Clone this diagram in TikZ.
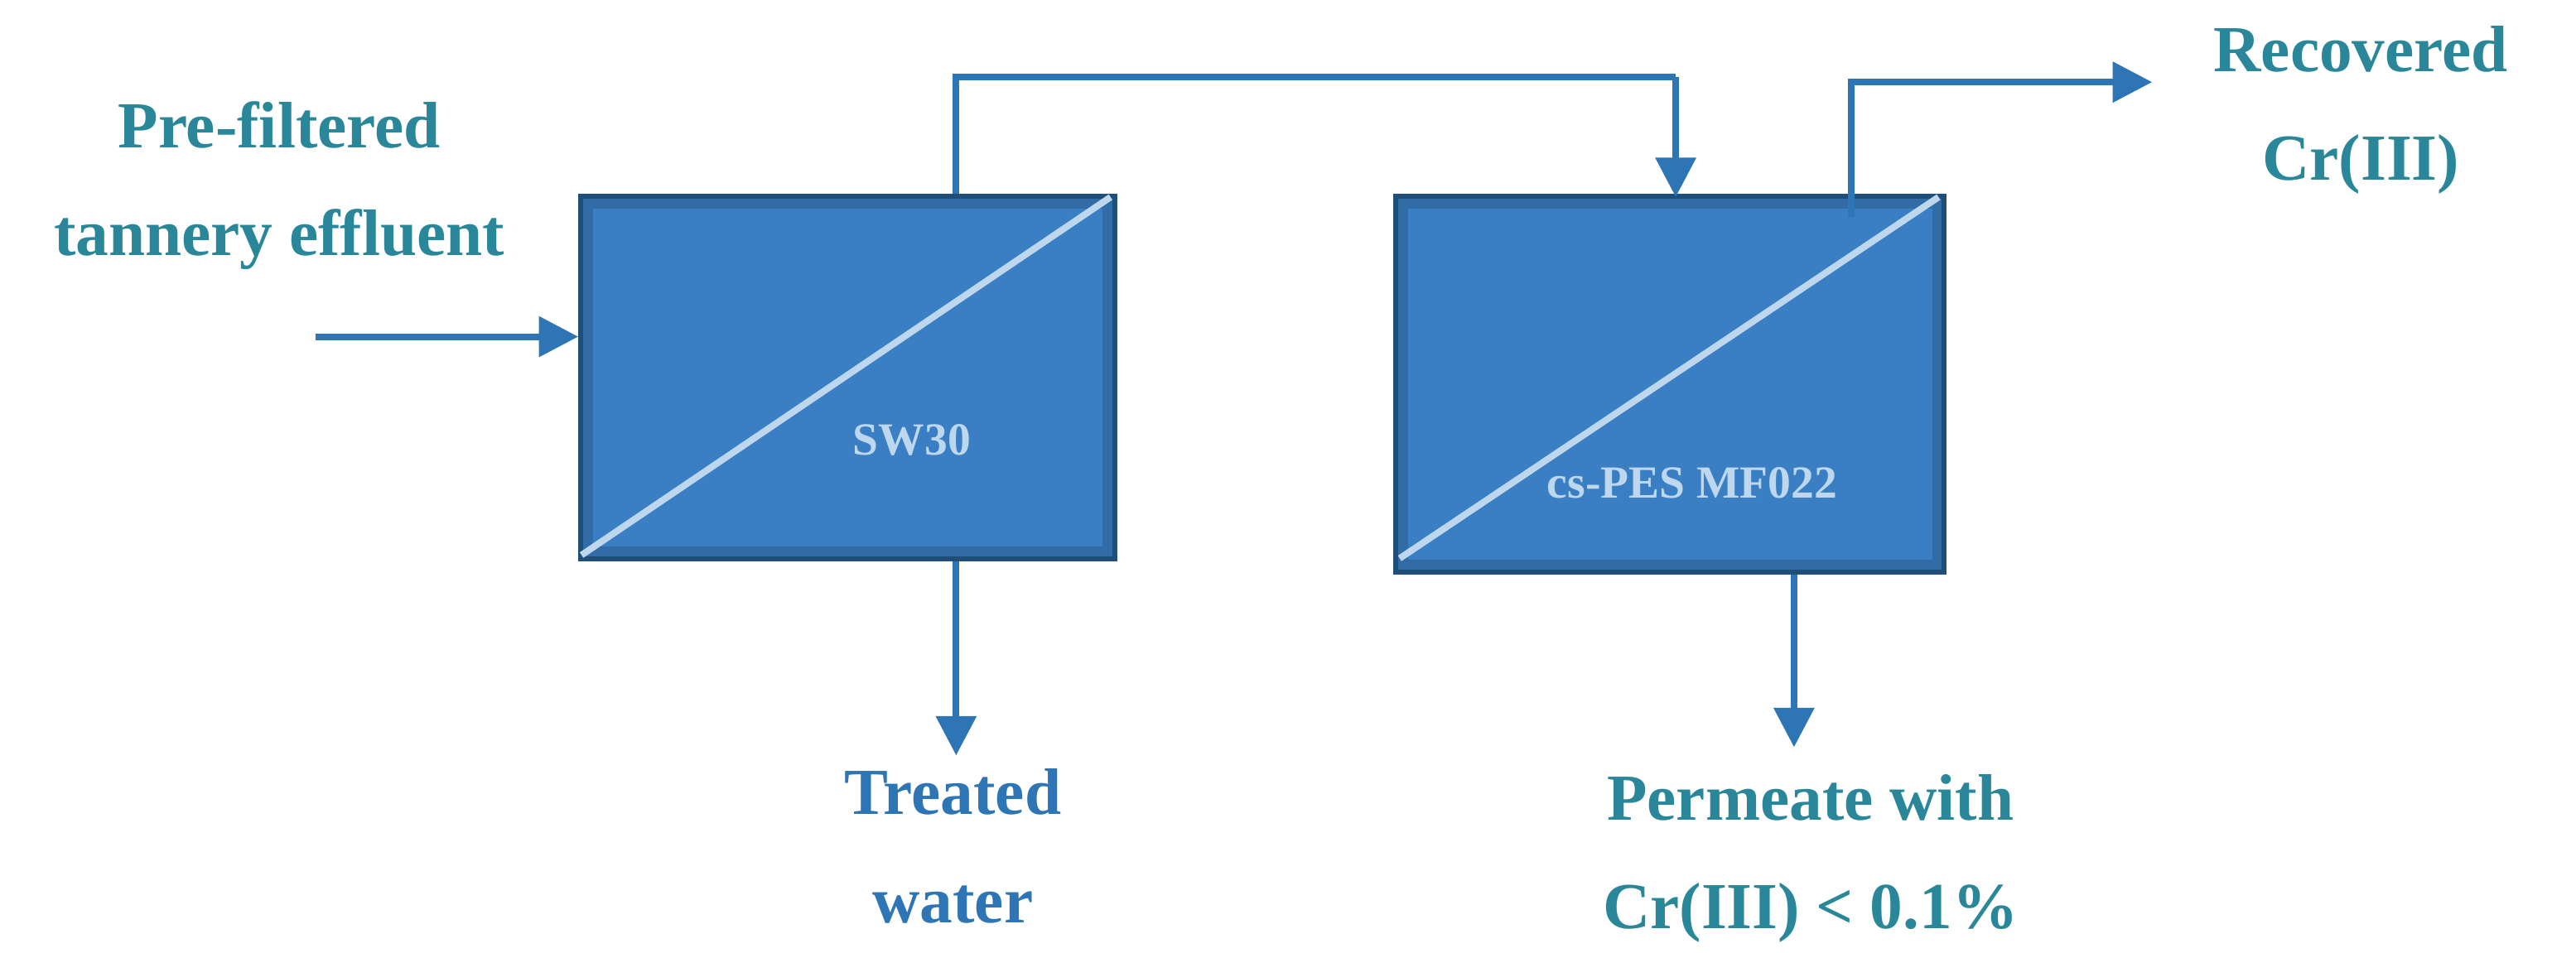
\documentclass[tikz,border=0pt]{standalone}
\usepackage{fontspec}
\setmainfont{Liberation Serif}
\usetikzlibrary{arrows.meta}
\definecolor{boxb}{HTML}{3A7FC4}
\definecolor{boxd}{HTML}{1F4E79}
\definecolor{arr}{HTML}{2E75B6}
\definecolor{teal}{HTML}{2A8799}
\definecolor{diag}{HTML}{BDD7EE}
\begin{document}
\begin{tikzpicture}[x=1pt,y=-1pt,
  flow/.style={draw=arr,line width=4pt,-{Triangle[length=24pt,width=24pt]}},
  lab/.style={font=\fontsize{40}{66}\selectfont\bfseries,align=center,text=teal},
  inlab/.style={font=\fontsize{28}{32}\selectfont\bfseries,text=diag}]
\useasboundingbox (0,0) rectangle (1568,580);
% boxes with bevel
\foreach \n/\a/\b/\c/\d in {A/352/118/680/342,B/848/118/1185/350}{
  \fill[boxd] (\a,\b) rectangle (\c,\d);
  \fill[boxb!85!black] (\a+3,\b+3) rectangle (\c-3,\d-3);
  \fill[boxb] (\a+9,\b+9) rectangle (\c-9,\d-9);
  \coordinate (\n) at ({(\a+\c)/2},{(\b+\d)/2});
}
\node[inlab] (s1) at (555,268) {SW30};
\node[inlab] (s2) at (1030,294) {cs-PES MF022};
\draw[diag,line width=4pt] (354,338) -- (676,120);
\draw[diag,line width=4pt] (852,340) -- (1180,120);
% labels
\node[lab] (pf) at (170,113) {Pre-filtered\\tannery effluent};
\node[lab] (rc) at (1437,67) {Recovered\\Cr(III)};
\node[lab,text=arr] (tw) at (580,515) {Treated\\water};
\node[lab] (pm) at (1102,523) {Permeate with\\Cr(III) < 0.1\%};
% connectors
\coordinate (in0) at (192,205);
\coordinate (in1) at (352,205);
\draw[flow] (in0) -- (in1);
\coordinate (t0) at (582,118);
\coordinate (t1) at (1020,47);
\coordinate (t2) at (1020,120);
\draw[draw=arr,line width=4pt] (t0) |- (t1);
\draw[flow] (t1) -- (t2);
\coordinate (r0) at (1127,132);
\coordinate (r1) at (1310,50);
\draw[flow] (r0) |- (r1);
\coordinate (b0) at (582,342);
\coordinate (b1) at (582,460);
\draw[flow] (b0) -- (b1);
\coordinate (c0) at (1092,350);
\coordinate (c1) at (1092,455);
\draw[flow] (c0) -- (c1);
\end{tikzpicture}
\end{document}
